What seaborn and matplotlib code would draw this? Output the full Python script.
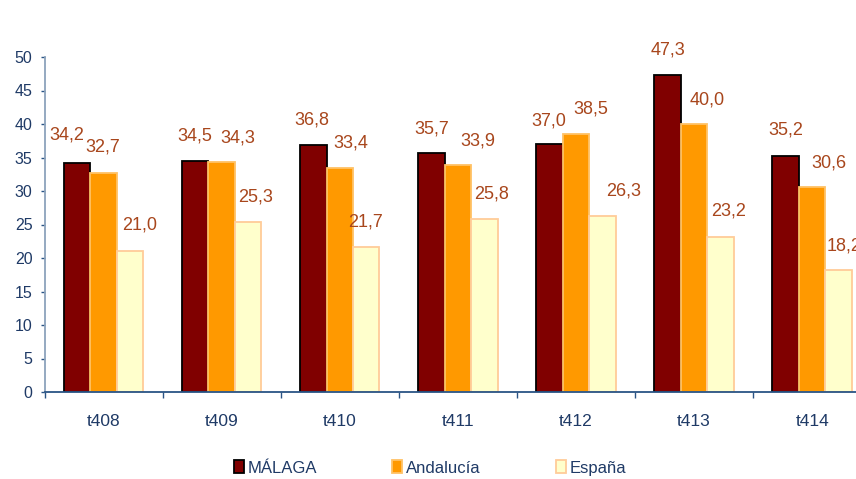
import matplotlib
matplotlib.use("Agg")
import matplotlib.pyplot as plt
import seaborn as sns
import pandas as pd
from matplotlib.patches import Patch

# ---- data ----
categories = ["t408", "t409", "t410", "t411", "t412", "t413", "t414"]
series_names = ["MÁLAGA", "Andalucía", "España"]
malaga = [34.2, 34.5, 36.8, 35.7, 37.0, 47.3, 35.2]
andalucia = [32.7, 34.3, 33.4, 33.9, 38.5, 40.0, 30.6]
espana = [21.0, 25.3, 21.7, 25.8, 26.3, 23.2, 18.2]
y_ticks = [0, 5, 10, 15, 20, 25, 30, 35, 40, 45, 50]

# ---- style ----
fill_colors = ["#800000", "#FF9900", "#FFFFCC"]
edge_colors = ["#000000", "#FFC266", "#FFCC99"]
label_color = "#A8461C"
tick_color = "#1F3A66"
# horizontal label offsets (pixels) per series, per category
label_dx = [
    [-10.5, 0, -1, 0, -1, 0, 0],
    [-1, 16.5, 11, 19.5, 15, 13, 16.5],
    [10, 7, -1, 7.5, 21.5, 8.5, 5],
]
label_dy = [
    [28, 25, 25, 24, 23, 25, 26],
    [26, 24, 25, 24, 25, 24, 24],
    [26, 25, 24.5, 25, 25, 26, 24.5],
]

sns.set_theme(style="white")
plt.rcParams["font.family"] = ["Liberation Sans", "DejaVu Sans"]

df = pd.DataFrame({
    "cat": categories * 3,
    "serie": [series_names[0]] * 7 + [series_names[1]] * 7 + [series_names[2]] * 7,
    "val": malaga + andalucia + espana,
})

fig = plt.figure(figsize=(8.56, 4.79), dpi=100)
ax = fig.add_axes([44.5 / 856, 87 / 479, 826.7 / 856, 335 / 479])

sns.barplot(data=df, x="cat", y="val", hue="serie", order=categories,
            hue_order=series_names, palette=fill_colors, width=0.673,
            gap=0, ax=ax, legend=False, errorbar=None, saturation=1)

for ci, cont in enumerate(ax.containers):
    for bi, bar in enumerate(cont):
        bar.set_edgecolor(edge_colors[ci])
        bar.set_linewidth(1.3)
        v = bar.get_height()
        ax.annotate(f"{v:.1f}".replace(".", ","),
                    xy=(bar.get_x() + bar.get_width() / 2, v),
                    xytext=(label_dx[ci][bi], label_dy[ci][bi]),
                    textcoords="offset pixels", ha="center", va="center",
                    color=label_color, fontsize=13, annotation_clip=False)

ax.set_xlim(-0.5, len(categories) - 0.5)
ax.set_ylim(0, 50)
ax.set_yticks(y_ticks)
ax.set_yticklabels([str(t) for t in y_ticks])
ax.set_xticks([i - 0.5 for i in range(len(categories) + 1)])
ax.set_xticklabels([])
ax.set_xticks(range(len(categories)), minor=True)
ax.set_xticklabels(categories, minor=True)
ax.tick_params(axis="x", which="major", length=4.5, width=1, color="#2A5485", direction="out", bottom=True)
ax.tick_params(axis="x", which="minor", length=0, pad=16, labelsize=12.5, labelcolor=tick_color)
ax.tick_params(axis="y", length=3, width=1, color="#2A5485", direction="out", left=True,
               pad=5.6, labelsize=11.5, labelcolor=tick_color)
ax.set_xlabel("")
ax.set_ylabel("")
for s in ["top", "right"]:
    ax.spines[s].set_visible(False)
ax.spines["left"].set_color("#8CA3BC")
ax.spines["left"].set_linewidth(1.3)
ax.spines["bottom"].set_color("#2A5485")
ax.spines["bottom"].set_linewidth(1.3)

handles = [Patch(facecolor=fill_colors[i], edgecolor=edge_colors[i], linewidth=1.3,
                 label=series_names[i]) for i in range(3)]
fig.legend(handles=handles, loc="center", bbox_to_anchor=(0.5026, 0.023), ncol=3,
           frameon=False, fontsize=12, labelcolor=tick_color, handlelength=0.6,
           handleheight=0.78, handletextpad=0.24, columnspacing=4.5, borderpad=0)

fig.savefig("out.png", dpi=100)
